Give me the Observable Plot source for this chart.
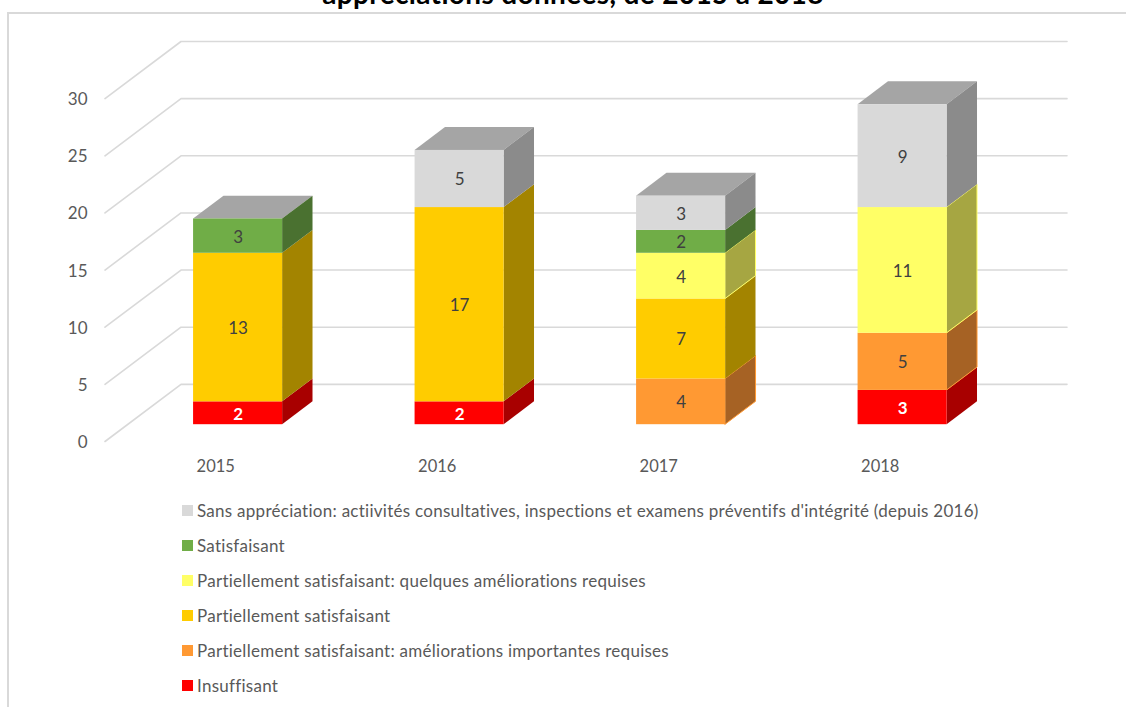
<!DOCTYPE html>
<html lang="fr">
<head>
<meta charset="utf-8">
<script src="https://cdn.jsdelivr.net/npm/d3@7"></script>
<script src="https://cdn.jsdelivr.net/npm/@observablehq/plot@0.6"></script>
<style>
html,body{margin:0;padding:0;background:#fff;}
#page{position:relative;width:1126px;height:707px;overflow:hidden;font-family:Lato,"Open Sans",sans-serif;color:#595959;}
#frame{position:absolute;left:7px;top:12px;width:1130px;height:710px;border-left:2px solid #d9d9d9;border-top:2px solid #d9d9d9;}
#title{position:absolute;left:0;width:1146px;top:-22px;text-align:center;font-size:28px;font-weight:700;letter-spacing:.35px;color:#000;line-height:30px;white-space:nowrap;}
#chart{position:absolute;left:0;top:0;}
#legend{position:absolute;left:0;top:0;}
.row{position:absolute;left:182px;height:20px;line-height:20px;font-size:17px;letter-spacing:.27px;white-space:nowrap;}
.sw{position:absolute;left:0;top:4px;width:11px;height:11px;}
.lb{position:absolute;left:15px;top:0;}
</style>
</head>
<body>
<div id="page">
<div id="frame"></div>
<div id="chart"></div>
<div id="title">appréciations données, de 2015 à 2018</div>
<div id="legend"></div>
</div>
<script>
const years = ["2015", "2016", "2017", "2018"];
const yTicks = [0, 5, 10, 15, 20, 25, 30];

// Stack order, bottom to top
const insuffisant = [2, 2, 0, 3];
const ameliorationsImportantes = [0, 0, 4, 5];
const partiellement = [13, 17, 7, 0];
const quelquesAmeliorations = [0, 0, 4, 11];
const satisfaisant = [3, 0, 2, 0];
const sansAppreciation = [0, 5, 3, 9];

const seriesNames = [
  "Insuffisant",
  "Partiellement satisfaisant: améliorations importantes requises",
  "Partiellement satisfaisant",
  "Partiellement satisfaisant: quelques améliorations requises",
  "Satisfaisant",
  "Sans appréciation: actiivités consultatives, inspections et examens préventifs d'intégrité (depuis 2016)"
];
const seriesValues = [insuffisant, ameliorationsImportantes, partiellement, quelquesAmeliorations, satisfaisant, sansAppreciation];
const frontColors = ["#ff0000", "#ff9933", "#ffcc00", "#ffff66", "#70ad47", "#d9d9d9"];
const sideColors  = ["#a80000", "#a66224", "#a38400", "#a6a642", "#4a7130", "#8b8b8b"];
const sideEdges   = ["none", "#ff9933", "none", "#ffff66", "none", "none"];
const topColor = "#a5a5a5";
const gridColor = "#d9d9d9";

// Oblique projection: a depth z moves a point right and up
const wallDepth = 5, zFront = 1.47, zBack = 3.47;
const xPerZ = 15.2 / 221.5;
const barWidth = 0.402;
const px = (i, z) => i + z * xPerZ;
const py = (v, z) => v + z;

const segments = [];
const totals = years.map(() => 0);
seriesValues.forEach((vals, s) => vals.forEach((v, i) => {
  if (!v) return;
  segments.push({i, s, v, y0: totals[i], y1: totals[i] + v});
  totals[i] += v;
}));

const left = d => d.i - barWidth / 2;
const right = d => d.i + barWidth / 2;

const sideData = segments.flatMap((d, k) => [zFront, zBack].map(z => ({
  k, s: d.s, x: px(right(d), z), y1: py(d.y0, z), y2: py(d.y1, z)
})));
const topData = years.flatMap((_, i) => [zFront, zBack].map(z => ({
  i, y: py(totals[i], z), x1: px(i - barWidth / 2, z), x2: px(i + barWidth / 2, z)
})));
const gridData = yTicks.flatMap(t => [
  {t, x: px(-0.5, 0), y: py(t, 0)},
  {t, x: px(-0.5, wallDepth), y: py(t, wallDepth)},
  {t, x: px(3.5, wallDepth), y: py(t, wallDepth)}
]);

const labelOptions = {
  x: d => px(d.i, zFront), y: d => py((d.y0 + d.y1) / 2, zFront), text: d => String(d.v), fontSize: 17, dy: 1
};

const chart = Plot.plot({
  width: 1126,
  height: 480,
  marginLeft: 104,
  marginRight: 60,
  marginTop: 41,
  marginBottom: 39,
  style: {fontFamily: "Lato, 'Open Sans', sans-serif", color: "#595959", background: "transparent"},
  x: {domain: [-0.5, px(3.5, wallDepth)], range: [104.5, 1066.5], axis: null},
  y: {domain: [0, py(30, wallDepth)], range: [441, 41], axis: null},
  marks: [
    Plot.line(gridData, {x: "x", y: "y", z: "t", stroke: gridColor, strokeWidth: 1.6}),
    Plot.axisY({ticks: yTicks, anchor: "left", tickSize: 0, tickPadding: 17, fontSize: 17, fill: "#595959", dy: 1}),
    Plot.text(years, {x: (_, i) => i, text: d => d, y: () => -2.1, dy: 1, fontSize: 16.5, fill: "#595959"}),
    Plot.areaX(topData, {y: "y", x1: "x1", x2: "x2", z: "i", fill: topColor}),
    Plot.areaY(sideData, {x: "x", y1: "y1", y2: "y2", z: "k", fill: d => sideColors[d.s], stroke: d => sideEdges[d.s], strokeWidth: 1}),
    Plot.rect(segments, {
      x1: d => px(left(d), zFront), x2: d => px(right(d), zFront),
      y1: d => py(d.y0, zFront), y2: d => py(d.y1, zFront),
      fill: d => frontColors[d.s]
    }),
    Plot.text(segments.filter(d => d.s !== 0), {...labelOptions, fill: "#404040"}),
    Plot.text(segments.filter(d => d.s === 0), {...labelOptions, fill: "#ffffff", fontWeight: 700})
  ]
});
document.getElementById("chart").append(chart);

// Legend, top entry first
const legendRowTop = 501, legendRowStep = 35;
const legend = document.getElementById("legend");
seriesNames.map((name, s) => ({name, s})).reverse().forEach((d, r) => {
  const row = document.createElement("div");
  row.className = "row";
  row.style.top = (legendRowTop + r * legendRowStep) + "px";
  const sw = document.createElement("span");
  sw.className = "sw";
  sw.style.background = frontColors[d.s];
  const lb = document.createElement("span");
  lb.className = "lb";
  lb.textContent = d.name;
  row.append(sw, lb);
  legend.append(row);
});
</script>
</body>
</html>
